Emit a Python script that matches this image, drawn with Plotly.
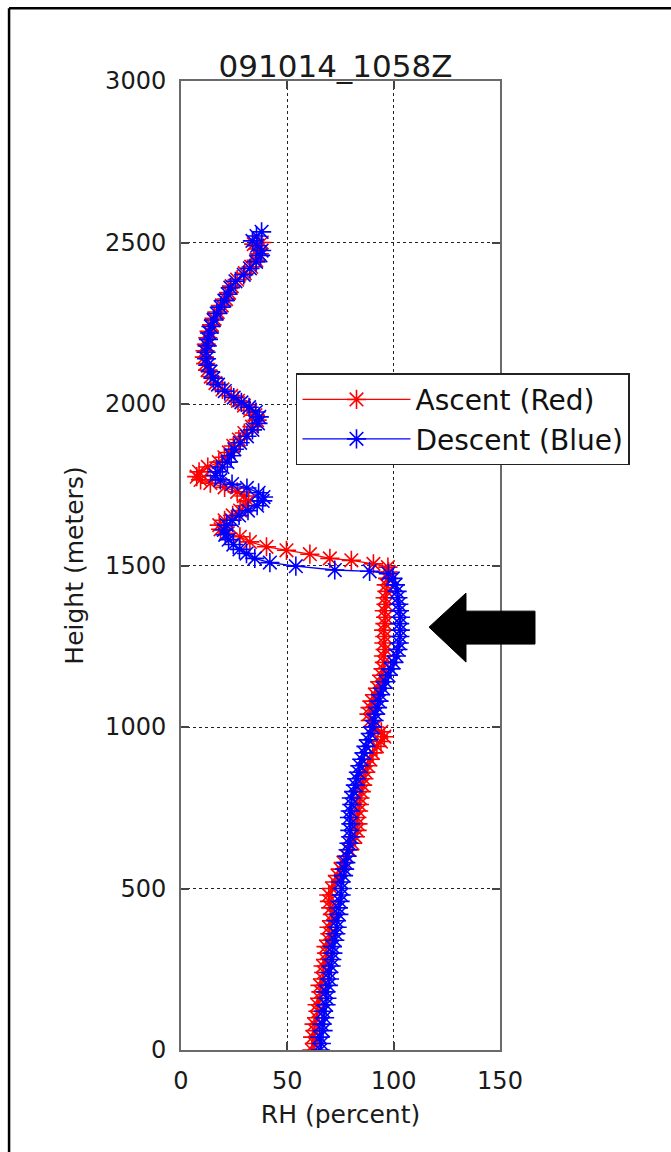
import plotly.graph_objects as go

# ---- data (RH %, height m) ----
descent_height = [0, 20, 40, 60, 80, 100, 120, 140, 160, 180, 200, 220, 240, 260, 280, 300, 320, 340, 360, 380,
                  400, 420, 440, 460, 480, 500, 520, 540, 560, 580, 600, 620, 640, 660, 680, 700, 720, 740, 760, 780,
                  800, 820, 840, 860, 880, 900, 920, 940, 960, 980, 1000, 1020, 1040, 1060, 1080, 1100, 1120, 1140,
                  1160, 1180, 1200, 1220, 1240, 1260, 1280, 1300, 1320, 1340, 1360, 1380, 1400, 1420, 1440, 1460,
                  1475, 1482, 1486, 1498, 1509, 1522, 1537, 1550, 1565, 1580, 1595, 1610, 1625, 1640, 1655, 1670,
                  1685, 1700, 1712, 1725, 1740, 1752, 1765, 1778, 1790, 1805, 1820, 1840, 1860, 1880, 1900, 1920,
                  1940, 1960, 1975, 1990, 2005, 2020, 2040, 2060, 2080, 2100, 2120, 2140, 2160, 2180, 2200, 2220,
                  2240, 2260, 2280, 2300, 2320, 2340, 2360, 2380, 2400, 2420, 2440, 2460, 2475, 2490, 2505, 2520, 2533]
descent_rh = [65.5, 66.0, 65.2, 66.8, 66.3, 67.5, 67.0, 68.2, 68.6, 68.1, 69.3, 69.8, 69.5, 70.6, 70.9, 71.4, 71.2,
              72.3, 72.8, 73.4, 73.1, 74.2, 74.0, 74.8, 75.3, 75.6, 75.2, 76.4, 76.9, 77.5, 78.1, 78.6, 79.0, 79.8,
              79.4, 79.9, 79.2, 79.6, 80.3, 80.1, 81.2, 82.0, 82.6, 83.4, 84.1, 85.0, 86.1, 87.0, 88.1, 89.0, 90.0,
              90.8, 91.5, 92.4, 93.1, 93.8, 95.0, 96.2, 97.5, 98.6, 100.0, 101.3, 102.0, 102.6, 102.9, 103.1, 102.8,
              103.2, 102.7, 102.4, 102.0, 101.6, 100.8, 99.6, 97.5, 88.7, 72.3, 54.0, 41.8, 34.7, 30.8, 27.5, 24.6,
              22.4, 20.8, 20.2, 21.5, 24.0, 27.3, 31.5, 35.8, 38.4, 38.8, 36.5, 31.0, 24.0, 18.5, 16.2, 17.0, 19.5,
              21.8, 23.6, 25.1, 27.8, 31.0, 33.6, 36.2, 36.8, 35.2, 32.0, 28.4, 24.8, 20.6, 17.4, 15.2, 13.8, 12.6,
              12.0, 11.8, 12.3, 12.9, 13.4, 14.1, 15.3, 16.8, 18.6, 20.4, 22.1, 23.2, 25.6, 29.5, 32.4, 35.3, 37.4,
              37.9, 35.8, 33.6, 35.5, 37.9]

ascent_height = [0, 20, 40, 60, 80, 100, 120, 140, 160, 180, 200, 220, 240, 260, 280, 300, 320, 340, 360, 380,
                 400, 420, 440, 460, 480, 500, 520, 540, 560, 580, 600, 620, 640, 660, 680, 700, 720, 740, 760, 780,
                 800, 820, 840, 860, 880, 900, 920, 940, 955, 970, 985, 1000, 1020, 1040, 1060, 1080, 1100, 1120,
                 1140, 1160, 1180, 1200, 1220, 1240, 1260, 1280, 1300, 1320, 1340, 1360, 1380, 1400, 1420, 1440,
                 1460, 1480, 1495, 1505, 1516, 1522, 1535, 1547, 1558, 1573, 1589, 1600, 1612, 1625, 1640, 1655,
                 1670, 1685, 1700, 1715, 1728, 1742, 1755, 1765, 1775, 1790, 1805, 1820, 1835, 1850, 1870, 1890,
                 1910, 1930, 1950, 1965, 1980, 1995, 2010, 2025, 2045, 2065, 2085, 2105, 2125, 2145, 2165, 2185,
                 2205, 2225, 2245, 2265, 2285, 2305, 2325, 2345, 2365, 2385, 2405, 2425, 2445, 2465, 2480, 2495, 2500]
ascent_rh = [61.5, 62.8, 61.9, 63.0, 62.6, 63.8, 64.4, 64.0, 65.2, 65.8, 65.4, 66.7, 67.1, 66.8, 68.0, 68.5, 68.2,
             69.4, 70.0, 69.6, 70.8, 71.2, 70.4, 69.8, 69.5, 71.0, 72.4, 73.6, 75.0, 76.4, 77.8, 79.1, 80.6, 82.0,
             82.8, 83.2, 82.7, 83.5, 83.9, 84.2, 84.8, 85.4, 86.0, 86.9, 87.8, 88.9, 90.2, 92.1, 94.0, 95.6, 94.2,
             91.0, 89.0, 88.4, 88.9, 89.8, 91.2, 92.5, 93.4, 94.3, 95.0, 95.6, 95.2, 96.0, 95.4, 95.8, 95.3, 95.9,
             96.2, 95.6, 96.4, 96.0, 96.8, 96.5, 97.2, 97.6, 97.3, 90.5, 80.1, 70.0, 60.6, 49.6, 40.2, 32.4, 27.7,
             22.0, 18.6, 18.0, 20.5, 24.3, 27.8, 30.4, 31.8, 29.6, 26.4, 20.5, 13.8, 9.2, 7.4, 8.5, 12.6, 17.8,
             20.4, 22.5, 24.6, 27.2, 29.8, 33.4, 35.8, 35.0, 32.5, 29.6, 26.8, 23.6, 19.5, 16.2, 14.0, 12.5, 11.6,
             11.0, 11.3, 11.9, 12.6, 13.2, 14.5, 15.6, 17.3, 19.2, 21.2, 22.6, 23.8, 26.4, 30.0, 33.0, 35.4, 36.8,
             36.2, 34.2, 38.0]

x_ticks = [0, 50, 100, 150]
y_ticks = [0, 500, 1000, 1500, 2000, 2500, 3000]

FONT = "DejaVu Sans"

fig = go.Figure()
fig.add_trace(go.Scatter(
    x=ascent_rh, y=ascent_height, mode="lines+markers", name="Ascent (Red)",
    line=dict(color="#ff0000", width=1.3),
    marker=dict(symbol="asterisk-open", size=16, color="#ff0000", line=dict(color="#ff0000", width=1.6)),
))
fig.add_trace(go.Scatter(
    x=descent_rh, y=descent_height, mode="lines+markers", name="Descent (Blue)",
    line=dict(color="#0000ff", width=1.3),
    marker=dict(symbol="asterisk-open", size=16, color="#0000ff", line=dict(color="#0000ff", width=1.6)),
))

axis_common = dict(
    showgrid=True, griddash="dot", gridcolor="#222222", gridwidth=1.3,
    ticks="inside", ticklen=8, tickwidth=1.5, tickcolor="#444444",
    showline=True, linecolor="#6a6a6a", linewidth=2, mirror="ticks",
    zeroline=False, tickfont=dict(family=FONT, size=24, color="#1a1a1a"),
    ticklabelstandoff=8,
)

fig.update_layout(
    width=671, height=1152,
    margin=dict(l=181, r=171, t=81, b=102),
    paper_bgcolor="white", plot_bgcolor="white",
    title=dict(text="091014_1058Z", x=0.5, xref="container", y=1 - 66 / 1152, yref="container",
               xanchor="center", yanchor="middle", font=dict(family=FONT, size=31, color="#1a1a1a")),
    xaxis=dict(range=[0, 150], tickvals=x_ticks, **axis_common,
               title=dict(text="RH (percent)", font=dict(family=FONT, size=25, color="#1a1a1a"), standoff=12)),
    yaxis=dict(range=[0, 3000], tickvals=y_ticks, **axis_common,
               title=dict(text="Height (meters)", font=dict(family=FONT, size=25, color="#1a1a1a"), standoff=14)),
    legend=dict(x=0.3605, y=0.6984, xanchor="left", yanchor="top", bgcolor="white",
                bordercolor="#222222", borderwidth=1.5, itemwidth=108,
                font=dict(family=FONT, size=28, color="#111111"), tracegroupgap=0),
    showlegend=True,
)

# black arrow pointing left (paper coordinates)
arrow = "M0.7774,0.4364 L0.8934,0.4715 L0.8934,0.4529 L1.1097,0.4529 L1.1097,0.4189 L0.8934,0.4189 L0.8934,0.4003 Z"
fig.add_shape(type="path", path=arrow, xref="paper", yref="paper", fillcolor="black",
              line=dict(color="black", width=1), layer="above")

# outer frame (top and left edges)
fig.add_shape(type="line", xref="paper", yref="paper", x0=-0.539, y0=1.075, x1=1.6, y1=1.075,
              line=dict(color="black", width=2.5))
fig.add_shape(type="line", xref="paper", yref="paper", x0=-0.539, y0=1.075, x1=-0.539, y1=-0.2,
              line=dict(color="black", width=2.5))

fig.write_html("out.html")
